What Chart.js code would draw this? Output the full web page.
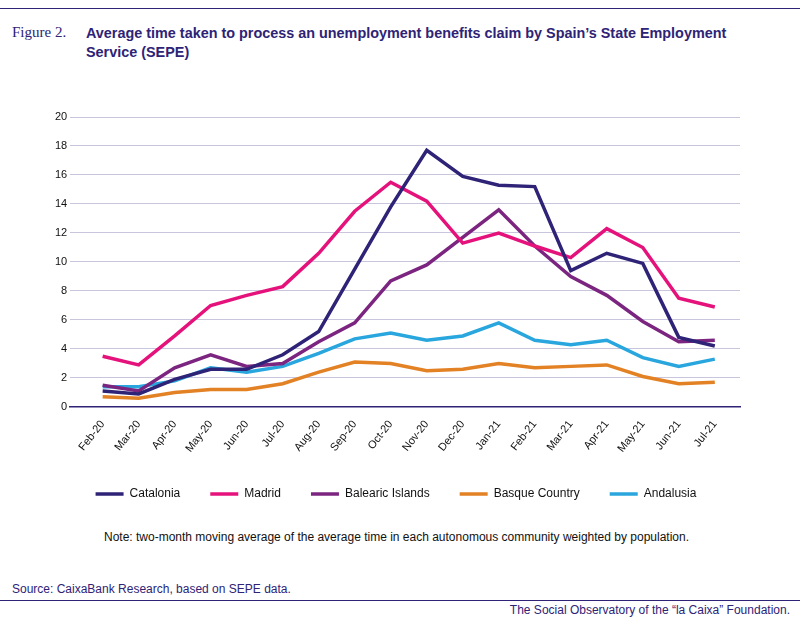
<!DOCTYPE html>
<html>
<head>
<meta charset="utf-8">
<script src="https://cdn.jsdelivr.net/npm/chart.js@4/dist/chart.umd.min.js"></script>
<style>
  body { margin: 0; width: 800px; height: 626px; background: #fff; font-family: "Liberation Sans", Arial, sans-serif; position: relative; overflow: hidden; }
  .rule { position: absolute; left: 0; width: 800px; border-top: 1.5px solid #2e2376; }
  #fig { position: absolute; left: 12px; top: 24px; font-family: "Liberation Serif", serif; font-size: 15px; color: #2e2376; }
  #title { position: absolute; left: 86px; top: 24px; width: 680px; font-size: 14.4px; font-weight: bold; color: #2e2376; line-height: 19px; }
  #wrap { position: absolute; left: 0; top: 100px; width: 760px; height: 410px; }
  #note { position: absolute; left: 104px; top: 530px; font-size: 12px; color: #111; }
  #source { position: absolute; left: 12px; top: 582px; font-size: 12px; color: #2e2376; }
  #footer { position: absolute; right: 10px; top: 603px; font-size: 12px; color: #2e2376; }
</style>
</head>
<body>
<div class="rule" style="top:8px"></div>
<div id="fig">Figure 2.</div>
<div id="title">Average time taken to process an unemployment benefits claim by Spain’s State Employment Service (SEPE)</div>
<div id="wrap"><canvas id="chart"></canvas></div>
<div id="note">Note: two-month moving average of the average time in each autonomous community weighted by population.</div>
<div id="source">Source: CaixaBank Research, based on SEPE data.</div>
<div class="rule" style="top:600px"></div>
<div id="footer">The Social Observatory of the “la Caixa” Foundation.</div>
<script>
const months = ['Feb-20', 'Mar-20', 'Apr-20', 'May-20', 'Jun-20', 'Jul-20', 'Aug-20', 'Sep-20', 'Oct-20', 'Nov-20', 'Dec-20', 'Jan-21', 'Feb-21', 'Mar-21', 'Apr-21', 'May-21', 'Jun-21', 'Jul-21'];
const catalonia = [1.1, 0.9, 1.9, 2.6, 2.6, 3.6, 5.2, 9.5, 13.8, 17.7, 15.9, 15.3, 15.2, 9.4, 10.6, 9.9, 4.8, 4.2];
const madrid = [3.5, 2.9, 4.9, 7.0, 7.7, 8.3, 10.6, 13.5, 15.5, 14.2, 11.3, 12.0, 11.1, 10.3, 12.3, 11.0, 7.5, 6.9];
const balearic = [1.5, 1.1, 2.7, 3.6, 2.8, 3.0, 4.5, 5.8, 8.7, 9.8, 11.7, 13.6, 11.1, 9.0, 7.7, 5.9, 4.5, 4.6];
const basque = [0.7, 0.6, 1.0, 1.2, 1.2, 1.6, 2.4, 3.1, 3.0, 2.5, 2.6, 3.0, 2.7, 2.8, 2.9, 2.1, 1.6, 1.7];
const andalusia = [1.4, 1.4, 1.8, 2.7, 2.4, 2.8, 3.7, 4.7, 5.1, 4.6, 4.9, 5.8, 4.6, 4.3, 4.6, 3.4, 2.8, 3.3];

function series(label, values, color) {
    return {
        label,
        data: values.map((v, i) => ({ x: i, y: v })),
        borderColor: color,
        backgroundColor: color,
        borderWidth: 3.5,
        pointRadius: 0,
        tension: 0,
    };
}

new Chart(document.getElementById('chart'), {
    type: 'line',
    data: {
        datasets: [
            series('Catalonia', catalonia, '#2e2376'),
            series('Madrid', madrid, '#e6127c'),
            series('Balearic Islands', balearic, '#7c2580'),
            series('Basque Country', basque, '#e38125'),
            series('Andalusia', andalusia, '#28a6dd'),
        ],
    },
    options: {
        responsive: true,
        maintainAspectRatio: false,
        animation: false,
        layout: { padding: { left: 52, right: 20, top: 17, bottom: 0 } },
        plugins: {
            legend: {
                position: 'bottom',
                labels: { usePointStyle: true, pointStyle: 'line', pointStyleWidth: 28, color: '#111', font: { size: 12 }, padding: 30, boxHeight: 4 },
            },
            tooltip: { enabled: false },
        },
        scales: {
            x: {
                type: 'linear',
                min: -0.9,
                max: 17.7,
                afterBuildTicks: (axis) => { axis.ticks = months.map((m, i) => ({ value: i })); },
                grid: { display: false },
                border: { color: '#2e2376', width: 1.5 },
                ticks: {
                    color: '#111',
                    font: { size: 11 },
                    maxRotation: 52,
                    minRotation: 52,
                    autoSkip: false,
                    callback: (v) => months[v],
                },
            },
            y: {
                min: 0,
                max: 20,
                ticks: { stepSize: 2, color: '#111', font: { size: 11 } },
                grid: { color: '#c9c5dd', drawTicks: false },
                border: { display: false },
            },
        },
    },
});
</script>
</body>
</html>
